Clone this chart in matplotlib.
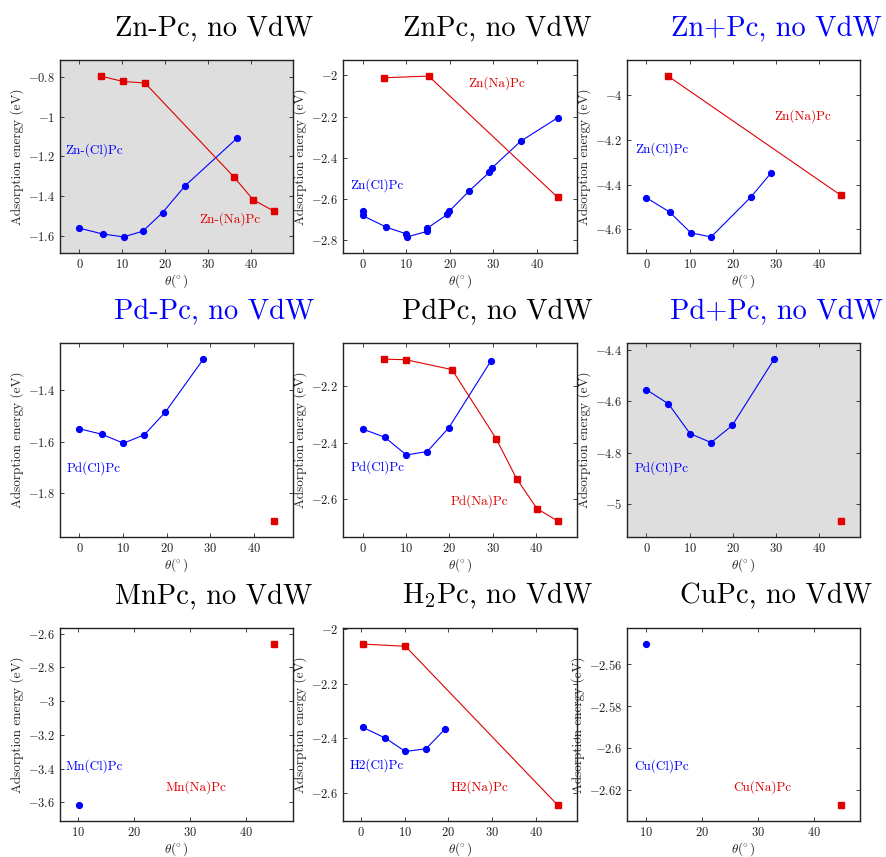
import numpy as np
import matplotlib
matplotlib.use("Agg")
import matplotlib.pyplot as plt
from matplotlib.ticker import MultipleLocator, FuncFormatter

# ============================================================================
# DATA
# ============================================================================
# Zn-Pc, no VdW
ZN_MINUS_CL_X = [0, 5.4, 10.3, 14.8, 19.4, 24.7, 36.7]
ZN_MINUS_CL_Y = [-1.563, -1.592, -1.607, -1.578, -1.484, -1.348, -1.110]
ZN_MINUS_NA_X = [5.0, 10.1, 15.3, 36.0, 40.5, 45.3]
ZN_MINUS_NA_Y = [-0.795, -0.822, -0.830, -1.303, -1.419, -1.476]

# ZnPc, no VdW
ZN_CL_X = [0, 0, 5.5, 9.9, 10.2, 14.9, 14.9, 19.5, 19.9, 24.5, 29.1, 29.8, 36.3, 44.8]
ZN_CL_Y = [-2.660, -2.680, -2.737, -2.768, -2.784, -2.757, -2.741, -2.675, -2.660,
           -2.561, -2.471, -2.448, -2.320, -2.206]
ZN_NA_X = [5.0, 15.2, 44.8]
ZN_NA_Y = [-2.011, -2.003, -2.591]

# Zn+Pc, no VdW
ZN_PLUS_CL_X = [0, 5.4, 10.3, 15.0, 24.2, 28.8]
ZN_PLUS_CL_Y = [-4.459, -4.523, -4.616, -4.634, -4.456, -4.350]
ZN_PLUS_NA_X = [5.0, 45.0]
ZN_PLUS_NA_Y = [-3.915, -4.447]

# Pd-Pc, no VdW
PD_MINUS_CL_X = [0, 5.1, 10.1, 14.9, 19.7, 28.4]
PD_MINUS_CL_Y = [-1.550, -1.571, -1.606, -1.573, -1.485, -1.280]
PD_MINUS_NA_X = [44.5]
PD_MINUS_NA_Y = [-1.907]

# PdPc, no VdW
PD_CL_X = [0, 5.1, 10.1, 14.9, 19.9, 29.5]
PD_CL_Y = [-2.351, -2.380, -2.443, -2.431, -2.346, -2.111]
PD_NA_X = [5.0, 10.0, 20.6, 30.8, 35.5, 40.2, 44.9]
PD_NA_Y = [-2.103, -2.105, -2.140, -2.386, -2.528, -2.634, -2.677]

# Pd+Pc, no VdW
PD_PLUS_CL_X = [0, 5.1, 10.1, 15.0, 19.9, 29.6]
PD_PLUS_CL_Y = [-4.555, -4.610, -4.726, -4.761, -4.694, -4.436]
PD_PLUS_NA_X = [45.0]
PD_PLUS_NA_Y = [-5.066]

# MnPc, no VdW
MN_CL_X = [10.2]
MN_CL_Y = [-3.616]
MN_NA_X = [44.9]
MN_NA_Y = [-2.661]

# H2Pc, no VdW
H2_CL_X = [0.4, 5.5, 10.2, 14.9, 19.2]
H2_CL_Y = [-2.359, -2.398, -2.448, -2.438, -2.366]
H2_NA_X = [0.4, 10.2, 44.9]
H2_NA_Y = [-2.054, -2.062, -2.644]

# CuPc, no VdW
CU_CL_X = [10.1]
CU_CL_Y = [-2.5503]
CU_NA_X = [44.8]
CU_NA_Y = [-2.6273]

TITLES = ['Zn-Pc, no VdW', 'ZnPc, no VdW', 'Zn+Pc, no VdW',
          'Pd-Pc, no VdW', 'PdPc, no VdW', 'Pd+Pc, no VdW',
          'MnPc, no VdW', r'H$_2$Pc, no VdW', 'CuPc, no VdW']
CL_LABELS = ['Zn-(Cl)Pc', 'Zn(Cl)Pc', 'Zn(Cl)Pc', 'Pd(Cl)Pc', 'Pd(Cl)Pc',
             'Pd(Cl)Pc', 'Mn(Cl)Pc', 'H2(Cl)Pc', 'Cu(Cl)Pc']
NA_LABELS = ['Zn-(Na)Pc', 'Zn(Na)Pc', 'Zn(Na)Pc', None, 'Pd(Na)Pc',
             None, 'Mn(Na)Pc', 'H2(Na)Pc', 'Cu(Na)Pc']
# label anchor points in data coordinates
CL_LABEL_XY = [(3.5, -1.167), (3.4, -2.532), (3.6, -4.243), (3.3, -1.704),
               (3.4, -2.488), (3.5, -4.862), (12.8, -3.383), (3.7, -2.498),
               (12.8, -2.6087)]
NA_LABEL_XY = [(35.2, -1.519), (30.9, -2.037), (36.1, -4.094), None,
               (26.9, -2.608), None, (31.0, -3.509), (27.1, -2.578),
               (30.8, -2.6189)]
Y_STEPS = [0.2, 0.2, 0.2, 0.2, 0.2, 0.2, 0.2, 0.2, 0.02]
TITLE_BLUE = [False, False, True, True, False, True, False, False, False]
GRAY_BG = [True, False, False, False, False, True, False, False, False]

CL_DATA = [(ZN_MINUS_CL_X, ZN_MINUS_CL_Y), (ZN_CL_X, ZN_CL_Y), (ZN_PLUS_CL_X, ZN_PLUS_CL_Y),
           (PD_MINUS_CL_X, PD_MINUS_CL_Y), (PD_CL_X, PD_CL_Y), (PD_PLUS_CL_X, PD_PLUS_CL_Y),
           (MN_CL_X, MN_CL_Y), (H2_CL_X, H2_CL_Y), (CU_CL_X, CU_CL_Y)]
NA_DATA = [(ZN_MINUS_NA_X, ZN_MINUS_NA_Y), (ZN_NA_X, ZN_NA_Y), (ZN_PLUS_NA_X, ZN_PLUS_NA_Y),
           (PD_MINUS_NA_X, PD_MINUS_NA_Y), (PD_NA_X, PD_NA_Y), (PD_PLUS_NA_X, PD_PLUS_NA_Y),
           (MN_NA_X, MN_NA_Y), (H2_NA_X, H2_NA_Y), (CU_NA_X, CU_NA_Y)]

# ============================================================================
# STYLE
# ============================================================================
plt.rcParams['font.family'] = 'serif'
plt.rcParams['font.serif'] = ['cmr10', 'DejaVu Serif']
plt.rcParams['mathtext.fontset'] = 'cm'
plt.rcParams['axes.unicode_minus'] = False

BLUE = '#0000ff'
RED = '#e00000'
BG = '#dedede'

W, H = 886, 857
COLS = [(60, 293), (343, 577), (627, 860)]
ROWS = [(60, 253), (343, 537), (628, 821)]
TITLE_X = [0.66, 0.66, 0.64]


def tick_fmt(v, pos):
    return r'$%g$' % round(v, 6)


def main():
    fig = plt.figure(figsize=(W / 100, H / 100), dpi=100)

    for i in range(9):
        r, c = divmod(i, 3)
        x0, x1 = COLS[c]
        y0, y1 = ROWS[r]
        ax = fig.add_axes([x0 / W, 1 - y1 / H, (x1 - x0) / W, (y1 - y0) / H])
        if GRAY_BG[i]:
            ax.set_facecolor(BG)

        cx, cy = CL_DATA[i]
        nx, ny = NA_DATA[i]
        ax.plot(cx, cy, '-o', color=BLUE, lw=0.8, ms=4.2)
        ax.plot(nx, ny, '-s', color=RED, lw=0.8, ms=4.0)
        ax.margins(0.1)

        ax.text(*CL_LABEL_XY[i], CL_LABELS[i], color=BLUE, fontsize=9.5,
                ha='center', va='center')
        if NA_LABELS[i] is not None:
            ax.text(*NA_LABEL_XY[i], NA_LABELS[i], color=RED, fontsize=9.5,
                    ha='center', va='center')

        ax.xaxis.set_major_locator(MultipleLocator(10))
        ax.yaxis.set_major_locator(MultipleLocator(Y_STEPS[i]))
        ax.xaxis.set_major_formatter(FuncFormatter(tick_fmt))
        ax.yaxis.set_major_formatter(FuncFormatter(tick_fmt))
        ax.tick_params(direction='in', top=True, right=True, length=3,
                       width=0.6, labelsize=9, colors='#222222', pad=3.5)
        for sp in ax.spines.values():
            sp.set_linewidth(1.0)
            sp.set_color('#222222')

        ax.set_xlabel(r'$\theta(\!^\circ)$', fontsize=9.5, color='#222222', labelpad=1)
        ax.set_ylabel('Adsorption energy (eV)', fontsize=9.5, color='#222222', labelpad=3)
        ax.set_title(TITLES[i], fontsize=20.5, x=TITLE_X[c], pad=18,
                     color=BLUE if TITLE_BLUE[i] else 'black')

    fig.savefig('out.png', dpi=100)


if __name__ == "__main__":
    main()
